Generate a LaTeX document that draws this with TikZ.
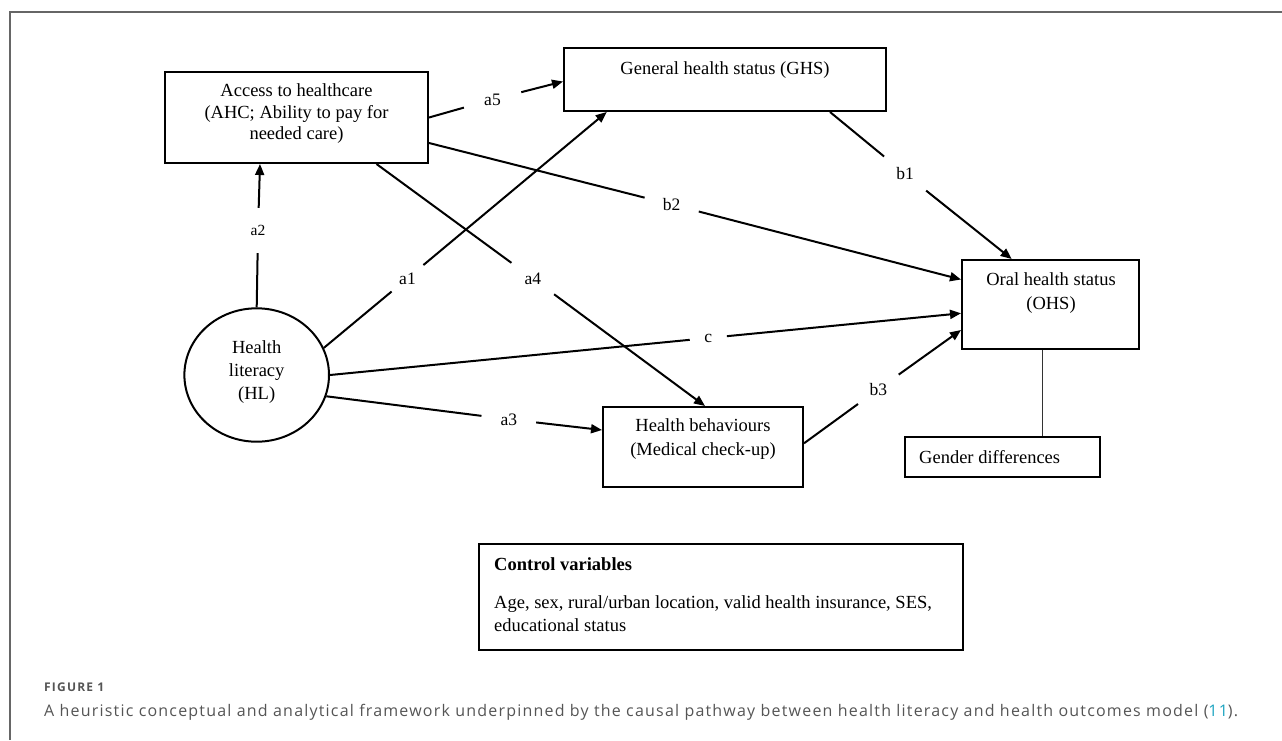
\documentclass[tikz,border=0pt]{standalone}
\usepackage{fontspec}
\setmainfont{Liberation Serif}
\newfontfamily\capfont[LetterSpace=7.5]{Open Sans}
\newfontfamily\figfont[LetterSpace=10]{Open Sans}
\usetikzlibrary{arrows.meta,shapes.geometric}
\definecolor{capgray}{HTML}{555555}
\definecolor{framegray}{HTML}{666666}
\definecolor{reflink}{HTML}{1AA3C0}
\begin{document}
\begin{tikzpicture}[x=1pt,y=-1pt,
  box/.style={draw, line width=2pt, rectangle, inner sep=0pt},
  txt/.style={font=\fontsize{18.5}{22}\selectfont, align=center, inner sep=0pt},
  gap/.style={circle, inner sep=0pt, font=\fontsize{17.5}{20}\selectfont},
  conn/.style={line width=2pt},
  arr/.style={conn, -{Triangle[length=11pt,width=9pt]}},
]
\useasboundingbox (0,0) rectangle (1282,740);
% frame
\draw[framegray, line width=1.5pt] (10,740) -- (10,12) -- (1282,12);

% boxes
\node[box, minimum width=263pt, minimum height=91pt] (ahc) at (296.5,117.5) {};
\node[box, minimum width=322pt, minimum height=63pt] (ghs) at (725,79.5) {};
\node[box, minimum width=177pt, minimum height=89pt] (ohs) at (1050.5,304.5) {};
\node[box, minimum width=200pt, minimum height=80pt] (hb) at (703,447) {};
\node[draw, line width=2pt, ellipse, inner sep=0pt, minimum width=144.6pt, minimum height=133.4pt] (hl) at (256.7,375) {};
\node[draw, line width=1.2pt, rectangle, inner sep=0pt, minimum width=195pt, minimum height=40pt] (gd) at (1002.5,457) {};
\node[box, minimum width=484pt, minimum height=106pt] (cv) at (721,597) {};

% texts
\node[txt, font=\fontsize{18.5}{21.5}\selectfont] (ahcT) at (296.5,114) {Access to healthcare\\(AHC; Ability to pay for\\needed care)};
\node[txt] (ghsT) at (725,70) {General health status (GHS)};
\node[txt, font=\fontsize{18.5}{24}\selectfont] (ohsT) at (1051,293) {Oral health status\\(OHS)};
\node[txt, font=\fontsize{18.5}{24}\selectfont] (hbT) at (703,439.5) {Health behaviours\\(Medical check-up)};
\node[txt, font=\fontsize{18.5}{23.3}\selectfont] (hlT) at (256.7,372) {Health\\literacy\\(HL)};
\node[txt, anchor=west] (gdT) at (919,457.5) {Gender differences};
\node[txt, anchor=west, font=\fontsize{18.5}{22}\selectfont\bfseries] (cvH) at (494,564) {Control variables};
\node[txt, anchor=west, align=left, font=\fontsize{18.5}{23.3}\selectfont] (cvT) at (494,614) {Age, sex, rural/urban location, valid health insurance, SES,\\educational status};

% gap labels
\node[gap, minimum size=59pt] (ga5) at (492.5,99.5) {a5};
\node[gap, minimum size=45pt, font=\fontsize{15.5}{18}\selectfont] (ga2) at (258,230.5) {a2};
\node[gap, minimum size=41pt] (ga1) at (407.5,278.3) {a1};
\node[gap, minimum size=52.6pt] (ga4) at (532.8,278.5) {a4};
\node[gap, minimum size=55.5pt] (gb2) at (671.7,204.5) {b2};
\node[gap, minimum size=53.8pt] (gb1) at (905,173.7) {b1};
\node[gap, minimum size=36.9pt] (gc) at (708.3,338) {c};
\node[gap, minimum size=54.7pt] (ga3) at (508.8,419.3) {a3};
\node[gap, minimum size=49.8pt] (gb3) at (878.3,389.2) {b3};

% connectors
\draw[conn] (ahc.east) -- (ga5);
\draw[arr] (ga5) -- ([yshift=-2pt]ghs.west);

\draw[conn] (hl.north) -- (ga2);
\draw[arr] (ga2) -- ([xshift=-36.5pt]ahc.south);

\draw[conn] (hl.22) -- (ga1);
\draw[arr] (ga1) -- ([xshift=-118.3pt]ghs.south);

\draw[conn] ([xshift=80pt]ahc.south) -- (ga4);
\draw[arr] (ga4) -- ([xshift=2pt]hb.north);

\draw[conn] ([yshift=-25.5pt]ahc.east) -- (gb2);
\draw[arr] (gb2) -- ([yshift=25pt]ohs.west);

\draw[conn] ([xshift=105pt]ghs.south) -- (gb1);
\draw[arr] (gb1) -- ([xshift=-38.8pt]ohs.north);

\draw[conn] (hl.east) -- (gc);
\draw[arr] (gc) -- ([yshift=-8.8pt]ohs.west);

\draw[conn] (hl.-17) -- (ga3);
\draw[arr] (ga3) -- ([yshift=17pt]hb.west);

\draw[conn] ([yshift=3.7pt]hb.east) -- (gb3);
\draw[arr] (gb3) -- ([yshift=-25.5pt]ohs.west);

\draw[line width=1.2pt, black!80] ([xshift=-7.8pt]ohs.south) -- ([xshift=40.2pt]gd.north);

% caption
\node[anchor=west, inner sep=0pt, text=capgray, font=\figfont\fontsize{12}{14}\selectfont\bfseries] (fig) at (44,687) {FIGURE 1};
\node[anchor=west, inner sep=0pt, text=capgray, font=\capfont\fontsize{16}{19}\selectfont] (cap) at (44,712) {A heuristic conceptual and analytical framework underpinned by the causal pathway between health literacy and health outcomes model (\textcolor{reflink}{11}).};
\end{tikzpicture}
\end{document}
